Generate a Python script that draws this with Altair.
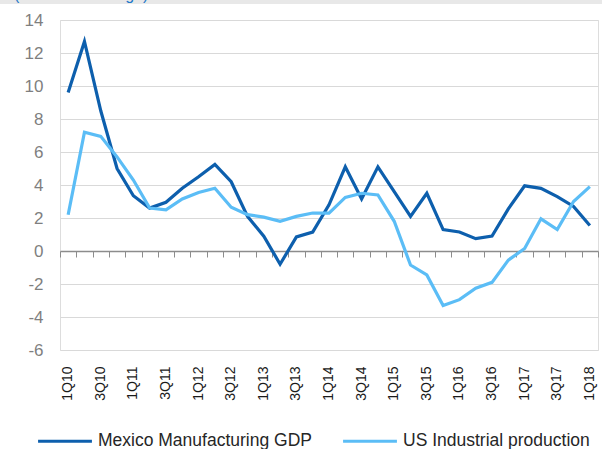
import altair as alt
import pandas as pd

quarters = [f"{q}Q{y}" for y in range(10, 18) for q in range(1, 5)] + ["1Q18"]

mexico = [9.6, 12.7, 8.5, 5.0, 3.35, 2.6, 2.95, 3.8, 4.5, 5.25, 4.2, 2.1, 0.9, -0.8, 0.85,
          1.15, 2.8, 5.1, 3.15, 5.1, 3.6, 2.1, 3.5, 1.3, 1.15, 0.75, 0.9, 2.55, 3.95, 3.8,
          3.3, 2.7, 1.55]
us = [2.2, 7.2, 6.95, 5.7, 4.3, 2.6, 2.5, 3.15, 3.55, 3.8, 2.65, 2.2, 2.05, 1.8, 2.1,
      2.3, 2.3, 3.25, 3.5, 3.4, 1.8, -0.85, -1.45, -3.3, -2.95, -2.25, -1.9, -0.55, 0.15,
      1.95, 1.3, 3.0, 3.9]

series_names = ["Mexico Manufacturing GDP", "US Industrial production"]
colors = ["#0d5fad", "#5bbdf6"]
y_ticks = list(range(-6, 16, 2))
x_label_values = quarters[::2]
title_text = "(annual % change)"

rows = []
for name, vals in zip(series_names, [mexico, us]):
    for q, v in zip(quarters, vals):
        rows.append({"quarter": q, "value": v, "series": name})
df = pd.DataFrame(rows)

FONT = "Liberation Sans"
W, H = 538, 330

xscale = alt.Scale(type="band", paddingInner=0, paddingOuter=0)
yscale = alt.Scale(domain=[-6, 14], nice=False)

lines = alt.Chart(df).mark_line(strokeWidth=3.2, clip=False).encode(
    x=alt.X("quarter:O", sort=quarters, scale=xscale, title=None,
            axis=alt.Axis(orient="bottom", values=x_label_values, labelAngle=270,
                          labelAlign="right", labelBaseline="middle", labelPadding=16,
                          labelFontSize=14, labelColor="#1a1a1a", labelFont=FONT,
                          domain=False, ticks=False, grid=False, labelOverlap=False)),
    y=alt.Y("value:Q", scale=yscale, title=None,
            axis=alt.Axis(values=y_ticks, grid=True, gridColor="#d9d9d9", gridWidth=1,
                          domain=False, ticks=False, labelFontSize=17,
                          labelColor="#7f7f7f", labelFont=FONT, labelPadding=17,
                          labelExpr="'' + datum.value",
                          labelOverlap=False, labelBound=False, labelFlush=False)),
    color=alt.Color("series:N", scale=alt.Scale(domain=series_names, range=colors),
                    legend=alt.Legend(orient="none", legendX=-24, legendY=392,
                                      direction="horizontal", title=None,
                                      symbolType="stroke", symbolStrokeWidth=3.2,
                                      symbolSize=2900, labelFontSize=17.5,
                                      labelFont=FONT, labelColor="#262626",
                                      columnPadding=24, labelOffset=4, labelLimit=400)),
)

zero_axis = alt.Chart(df[df.series == series_names[0]]).mark_rule(opacity=0).encode(
    x=alt.X("quarter:O", sort=quarters, scale=xscale, title=None,
            axis=alt.Axis(orient="bottom", offset=-99, labels=False, ticks=True,
                          tickBand="extent", tickSize=6, tickColor="#8c8c8c",
                          domain=True, domainColor="#8c8c8c", domainWidth=1.5,
                          grid=False)),
)

title_df = pd.DataFrame({"t": [title_text]})
band = alt.Chart(title_df).mark_rect(color="#e8e8e8", clip=False).encode(
    x=alt.value(-60), x2=alt.value(W + 4), y=alt.value(-20), y2=alt.value(-16))
title = alt.Chart(title_df).mark_text(
    color="#1f78c8", fontSize=16, font=FONT, align="left", baseline="alphabetic",
    clip=False).encode(text="t:N", x=alt.value(-46), y=alt.value(-20))

chart = alt.layer(band, title, lines, zero_axis).resolve_axis(x="independent").properties(
    width=W, height=H,
    autosize=alt.AutoSizeParams(type="none"),
    padding={"left": 60, "top": 20, "right": 4, "bottom": 99},
).configure_view(stroke=None).configure(background="white").configure_axis(labelOverlap=False)

chart.save("out.html", embed_options={"renderer": "svg", "actions": False})
